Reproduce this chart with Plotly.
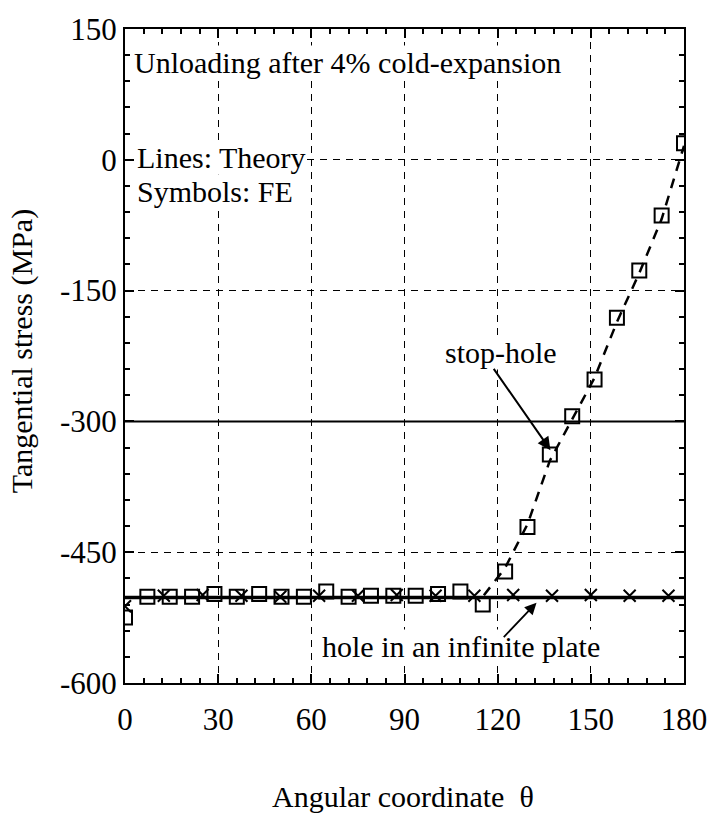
import plotly.graph_objects as go

# ---------------- data ----------------
fe_stop_x = [0, 7.2, 14.4, 21.6, 28.8, 36, 43.2, 50.4, 57.6, 64.8, 72, 79.2, 86.4,
             93.6, 100.8, 108, 115.2, 122.4, 129.6, 136.8, 144, 151.2, 158.4, 165.6,
             172.8, 180]
fe_stop_y = [-525, -501, -501, -501, -498, -501, -498, -501, -501, -495, -501, -500,
             -500, -500, -498, -495, -510, -472, -421, -338, -294, -252, -181, -127,
             -64, 19]

fe_inf_x = [0, 12.5, 25, 37.5, 50, 62.5, 75, 87.5, 100, 112.5, 125, 137.5, 150, 162.5, 175]
fe_inf_y = [-512, -500, -499, -500, -501, -500, -500, -499, -500, -500, -499, -500,
            -499, -500, -500]

th_stop_x = [0, 115, 122.4, 129.6, 136.8, 144, 151.2, 158.4, 165.6, 172.8, 180]
th_stop_y = [-502, -502, -468, -418, -345, -298, -250, -186, -130, -68, 16]

th_inf_x = [0, 180]
th_inf_y = [-502, -502]

ref_x = [0, 180]
ref_y = [-300, -300]

x_ticks = [0, 30, 60, 90, 120, 150, 180]
x_ticktext = ["0", "30", "60", "90", "120", "150", "180"]
y_ticks = [-600, -450, -300, -150, 0, 150]
y_ticktext = ["-600", "-450", "-300", "-150", "0", "150"]

FONT = "Liberation Serif"

fig = go.Figure()

fig.add_trace(go.Scatter(x=ref_x, y=ref_y, mode="lines",
                         line=dict(color="black", width=2), showlegend=False))
fig.add_trace(go.Scatter(x=th_inf_x, y=th_inf_y, mode="lines",
                         line=dict(color="black", width=3.5), showlegend=False))
fig.add_trace(go.Scatter(x=th_stop_x, y=th_stop_y, mode="lines",
                         line=dict(color="black", width=2.5, dash="10px,8px"),
                         showlegend=False))
fig.add_trace(go.Scatter(x=fe_inf_x, y=fe_inf_y, mode="markers",
                         marker=dict(symbol="x-thin-open", size=12, color="black",
                                     line=dict(color="black", width=2)),
                         showlegend=False))
fig.add_trace(go.Scatter(x=fe_stop_x, y=fe_stop_y, mode="markers",
                         marker=dict(symbol="square-open", size=14, color="black",
                                     line=dict(color="black", width=2)),
                         showlegend=False))

axis_common = dict(
    showline=True, linecolor="black", linewidth=2, mirror="allticks",
    ticks="inside", ticklen=9, tickwidth=2, tickcolor="black",
    showgrid=True, gridcolor="black", gridwidth=1.3, griddash="7px,6px",
    zeroline=False,
    tickfont=dict(family=FONT, size=31, color="black"),
)

fig.update_xaxes(range=[0, 180], tickmode="array", tickvals=x_ticks,
                 ticktext=x_ticktext, ticklabelstandoff=8,
                 minor=dict(dtick=6, ticks="inside", ticklen=5, tickwidth=1.5,
                            tickcolor="black", showgrid=False),
                 **axis_common)
fig.update_yaxes(range=[-600, 150], tickmode="array", tickvals=y_ticks,
                 ticktext=y_ticktext,
                 minor=dict(dtick=30, ticks="inside", ticklen=5, tickwidth=1.5,
                            tickcolor="black", showgrid=False),
                 **axis_common)

ann_font = dict(family=FONT, size=30, color="black")
annotations = [
    dict(x=2.5, y=112, xref="x", yref="y", text="Unloading after 4% cold-expansion",
         showarrow=False, xanchor="left", yanchor="middle", font=ann_font,
         bgcolor="white", borderpad=0),
    dict(x=3.5, y=3, xref="x", yref="y", text="Lines: Theory",
         showarrow=False, xanchor="left", yanchor="middle", font=ann_font,
         bgcolor="white", borderpad=0),
    dict(x=3.5, y=-36, xref="x", yref="y", text="Symbols: FE",
         showarrow=False, xanchor="left", yanchor="middle", font=ann_font,
         bgcolor="white", borderpad=0),
    dict(x=121, y=-221, xref="x", yref="y", text="stop-hole",
         showarrow=False, xanchor="center", yanchor="middle", font=ann_font,
         bgcolor="white", borderpad=0),
    dict(x=108.3, y=-558, xref="x", yref="y", text="hole in an infinite plate",
         showarrow=False, xanchor="center", yanchor="middle", font=ann_font,
         bgcolor="white", borderpad=0),
    dict(x=137.0, y=-333, ax=118.4, ay=-238, xref="x", yref="y", axref="x", ayref="y",
         text="", showarrow=True, arrowhead=2, arrowsize=1.3, arrowwidth=2,
         arrowcolor="black"),
    dict(x=132.5, y=-508, ax=121.5, ay=-549, xref="x", yref="y", axref="x", ayref="y",
         text="", showarrow=True, arrowhead=2, arrowsize=1.3, arrowwidth=1.8,
         arrowcolor="black"),
    dict(x=0.497, y=-0.173, xref="paper", yref="paper",
         text="Angular coordinate  \u03b8", showarrow=False,
         xanchor="center", yanchor="middle", font=ann_font),
    dict(x=-0.185, y=0.508, xref="paper", yref="paper",
         text="Tangential stress (MPa)", showarrow=False, textangle=-90,
         xanchor="center", yanchor="middle", font=ann_font),
]

fig.update_layout(
    width=719, height=813,
    margin=dict(l=125, r=24, t=20, b=130),
    paper_bgcolor="white", plot_bgcolor="white",
    annotations=annotations,
    showlegend=False,
)

fig.write_html("out.html")
